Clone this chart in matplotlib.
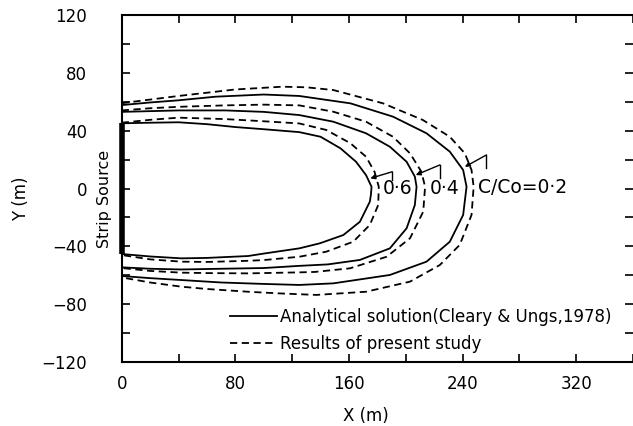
import matplotlib
matplotlib.use("Agg")
import matplotlib.pyplot as plt
from matplotlib.ticker import MultipleLocator

# contour outlines, (x, y) in metres
solid_06 = [(0, 45.1), (20, 45.5), (40, 45.8), (60, 44.5), (80, 42.5), (100, 41), (125, 39),
            (140, 35.8), (154, 27.8), (165, 18.5), (172, 9.3), (175.9, 1.2), (175.5, -4),
            (174.7, -9.1), (167.7, -23), (156, -32.2), (139.5, -37.9), (125, -41.4),
            (100, -45), (89, -46.7), (60, -48), (42, -48.3), (20, -47), (0, -45.3)]
dashed_06 = [(0, 45.5), (20, 47.5), (40, 49), (73, 48), (100, 46.5), (125, 45), (144, 40.5),
             (161, 31.3), (172, 22), (178, 11.6), (181, 1.2), (180.6, -11.4), (174.7, -25.2),
             (163, -36.8), (144, -43.7), (125, -47.2), (100, -49.5), (89, -50), (60, -50.8),
             (42, -50.6), (20, -49), (0, -46)]
solid_04 = [(0, 53), (20, 53.5), (40, 54), (73, 54), (100, 53), (125, 50.8), (149, 46.2),
            (172, 38.2), (188.8, 28.9), (200.6, 18.5), (206.4, 8.2), (207.6, 1.2),
            (206.4, -11.4), (200.6, -27.5), (188.8, -41.4), (167.7, -49.4), (145, -52.5),
            (125, -53.5), (100, -55), (70, -55.5), (42, -56), (20, -55.5), (0, -54.5)]
dashed_04 = [(0, 54), (20, 55.5), (40, 56.5), (73, 57.5), (100, 58), (125, 57.5), (149, 53.1),
             (172, 46.2), (191, 35.8), (203, 24.3), (211, 11.6), (213.6, 1.2), (212.3, -16),
             (203, -34.4), (186.5, -47.2), (160.7, -55.2), (136, -57.7), (125, -58),
             (89, -58.7), (60, -58.5), (42, -58.2), (20, -57), (0, -55)]
solid_02 = [(0, 57.7), (20, 59.5), (40, 61), (66, 63.5), (100, 65), (125, 64), (161, 58.9),
            (191, 49.7), (214.6, 38.2), (231, 25.5), (240.4, 12.8), (242.8, 1.2),
            (240.4, -18.3), (231, -36.8), (214.6, -50.6), (188.8, -59.8), (149, -65.6),
            (125, -66.7), (100, -66), (70, -65), (42, -63.3), (20, -62), (0, -60.5)]
dashed_02 = [(0, 59), (20, 61.5), (40, 64), (80, 68.5), (113, 70.4), (130, 70), (149, 68.1),
             (184, 58.9), (212, 47.4), (231, 35.8), (241.6, 24.3), (246.3, 12.8),
             (247.8, 1.2), (246.3, -18.3), (238, -39), (224, -52.9), (203, -64.4),
             (172, -71.4), (137, -73.6), (110, -72.5), (89, -71.4), (60, -69.5),
             (42, -67.9), (20, -65), (0, -61.5)]

levels = ["0·6", "0·4", "C/Co=0·2"]
label_x = [184, 217, 251]
label_y = [0, 0, 1]
# leader arrows: tip on the curve, elbow, foot of the hook
arrow_tip = [(175, 7), (207, 9.3), (241.6, 15)]
arrow_elbow = [(190.5, 11.6), (224, 16.3), (256.8, 23.2)]
arrow_foot = [(190.5, 5.9), (224, 7), (256.8, 14)]

strip_y = [-45, 45]

fig = plt.figure(figsize=(6.33, 4.26), dpi=100)
ax = fig.add_axes([0.1923, 0.1502, 0.8077, 0.8146])

dash = (0, (4, 2.5))
lw = 1.3
for pts in [solid_06, solid_04, solid_02]:
    xs, ys = zip(*pts)
    h_solid, = ax.plot(xs, ys, color="black", lw=lw, solid_joinstyle="round")
for pts in [dashed_06, dashed_04, dashed_02]:
    xs, ys = zip(*pts)
    h_dash, = ax.plot(xs, ys, color="black", lw=lw, linestyle=dash)

ax.plot([0, 0], strip_y, color="black", lw=4, solid_capstyle="butt", clip_on=False)

for lab, lx, ly in zip(levels, label_x, label_y):
    ax.text(lx, ly, lab, fontsize=13.5, ha="left", va="center")
for tip, elb, foot in zip(arrow_tip, arrow_elbow, arrow_foot):
    ax.annotate("", xy=tip, xytext=elb,
                arrowprops=dict(arrowstyle="-|>", color="black", lw=1.0,
                                mutation_scale=7, shrinkA=0, shrinkB=0))
    ax.plot([elb[0], foot[0]], [elb[1], foot[1]], color="black", lw=1.0)

ax.text(-11.8, -7, "Strip Source", rotation=90, fontsize=11.5,
        ha="center", va="center", clip_on=False)

ax.set_xlim(0, 360)
ax.set_ylim(-120, 120)
ax.xaxis.set_major_locator(MultipleLocator(80))
ax.xaxis.set_minor_locator(MultipleLocator(40))
ax.yaxis.set_major_locator(MultipleLocator(40))
ax.yaxis.set_minor_locator(MultipleLocator(20))
ax.tick_params(which="both", direction="in", top=True, right=True,
               length=6, width=1.2, labelsize=12)
ax.tick_params(axis="y", which="major", pad=25)
ax.tick_params(axis="x", which="major", pad=9)
for side in ["left", "bottom", "top"]:
    ax.spines[side].set_linewidth(1.5)
ax.spines["right"].set_visible(False)

ax.set_xlabel("X (m)", fontsize=12)
ax.xaxis.set_label_coords((366 - 121.7) / (633 - 121.7), -0.13)
ax.set_ylabel("Y (m)", fontsize=12)
ax.yaxis.set_label_coords(-0.18, 0.47)

fig.legend([h_solid, h_dash],
           ["Analytical solution(Cleary & Ungs,1978)", "Results of present study"],
           loc="upper left", bbox_to_anchor=(230 / 633, 1 - 308 / 426),
           frameon=False, fontsize=12, handlelength=2.8, handletextpad=0.2,
           borderpad=0, borderaxespad=0, labelspacing=0.55)

fig.savefig("out.png", dpi=100)
